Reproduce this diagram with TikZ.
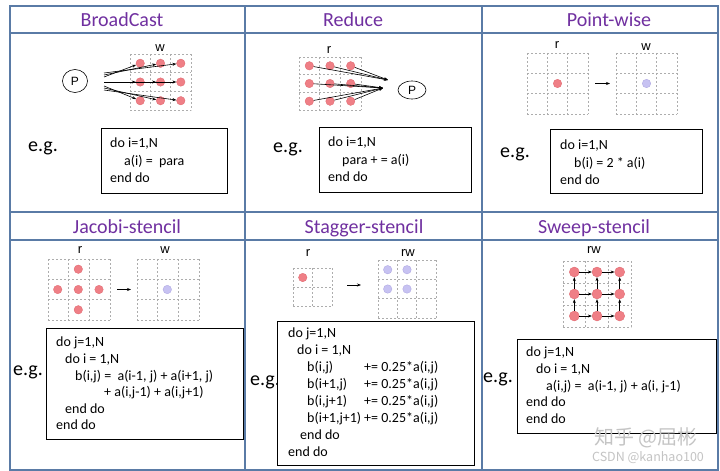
\documentclass[tikz,border=0pt]{standalone}
\usepackage{fontspec}
\setmainfont{Carlito}
\newfontfamily\cjkfont{Noto Sans CJK SC}
\newfontfamily\arialfont{Liberation Sans}
\usetikzlibrary{shapes.geometric,arrows.meta}
\definecolor{frameblue}{HTML}{5A7BA6}
\definecolor{ttlpurple}{HTML}{7030A0}
\definecolor{dotpink}{HTML}{EF7F86}
\definecolor{dotpinkd}{HTML}{E0646C}
\definecolor{dotlav}{HTML}{C7C2F2}
\definecolor{dotlavd}{HTML}{A9A2E0}
\definecolor{gridgray}{HTML}{ADADAD}
\definecolor{wmgray}{HTML}{C4C4C4}
\tikzset{
 frame/.style={draw=frameblue, line width=1.5pt},
 ttl/.style={font=\fontsize{20}{24}\selectfont, text=ttlpurple, anchor=base, inner sep=0},
 eg/.style={font=\fontsize{20}{24}\selectfont, anchor=base west, inner sep=0},
 codebox/.style={draw=black, line width=1.3pt, fill=white, anchor=north west, inner sep=0},
 code/.style={font=\fontsize{14}{17.5}\selectfont, align=left, anchor=north west, inner sep=0},
 codeb/.style={font=\fontsize{14}{16.6}\selectfont, align=left, anchor=north west, inner sep=0},
 codec/.style={font=\fontsize{14}{17}\selectfont, align=left, anchor=north west, inner sep=0},
 lbl/.style={font=\arialfont\fontsize{13}{15}\selectfont, inner sep=0},
 gridl/.style={draw=gridgray, line width=0.6pt, dash pattern=on 2pt off 2pt},
 pdot/.style={circle, fill=dotpink, draw=dotpinkd, line width=0.3pt, minimum size=8.5pt, inner sep=0},
 ldot/.style={circle, fill=dotlav, draw=dotlavd, line width=0.3pt, minimum size=8.5pt, inner sep=0},
 arr/.style={-{Stealth[length=4pt,width=3pt]}, line width=0.6pt, black},
 pnode/.style={ellipse, draw, line width=0.6pt, font=\arialfont\fontsize{12}{14}\selectfont, inner sep=0},
 wm1/.style={font=\cjkfont\fontsize{20}{24}\selectfont, text=wmgray, inner sep=0},
 wm2/.style={font=\cjkfont\fontsize{12.5}{15}\selectfont, text=wmgray, inner sep=0},
}
\newcommand\dgrid[6]{%
 \foreach \gi in {0,...,#3} \draw[gridl] ({#1+\gi*#5},#2) -- ++(0,{#4*#6});
 \foreach \gj in {0,...,#4} \draw[gridl] (#1,{#2+\gj*#6}) -- ++({#3*#5},0);
}
\begin{document}
\begin{tikzpicture}[x=1pt,y=-1pt]
\useasboundingbox[fill=white] (0,0) rectangle (720,471);
% table frame
\draw[frame] (10,6) rectangle (718,470);
\draw[frame] (245,6) -- (245,470);
\draw[frame] (482,6) -- (482,470);
\draw[frame] (10,33) -- (718,33);
\draw[frame] (10,212) -- (718,212);
\draw[frame] (10,240) -- (718,240);
% titles
\node[ttl] (t1) at (122,26) {BroadCast};
\node[ttl] (t2) at (353,26) {Reduce};
\node[ttl] (t3) at (609,26) {Point-wise};
\node[ttl] (t4) at (127,233.5) {Jacobi-stencil};
\node[ttl] (t5) at (364,233.5) {Stagger-stencil};
\node[ttl] (t6) at (594,233.5) {Sweep-stencil};

% ---------- BroadCast ----------
\node[lbl] (lw1) at (160,48) {w};
\dgrid{130}{54}{3}{3}{20.33}{18.67}
\foreach \r/\y in {1/63.3,2/82,3/100.7}
 \foreach \c/\x in {1/140.2,2/160.5,3/180.8}
  \node[pdot] (b\r\c) at (\x,\y) {};
\node[pnode, minimum width=25pt, minimum height=23pt] (pb) at (75,81) {P};
\coordinate (bo1) at (104,73);
\coordinate (bo2) at (104,75);
\coordinate (bo3) at (104,77);
\coordinate (bo4) at (104,82);
\coordinate (bo7) at (104,86);
\coordinate (bo8) at (104,88);
\coordinate (bo9) at (104,90);
\draw[arr] (bo3) -- (b11);
\draw[arr] (bo2) -- (b12);
\draw[arr] (bo1) -- (b13);
\draw[arr] (bo4) -- (b21);
\draw[arr] (bo4) -- (b22);
\draw[arr] (bo4) -- (b23);
\draw[arr] (bo7) -- (b31);
\draw[arr] (bo8) -- (b32);
\draw[arr] (bo9) -- (b33);
\node[eg] (eg1) at (28,151) {e.g.};
\node[codebox, minimum width=126pt, minimum height=65pt] (cb1) at (101,128) {};
\node[code] (c1) at (110,138) {do i=1,N\\\hspace*{14pt}a(i) =\ \ para\\end do};

% ---------- Reduce ----------
\node[lbl] (lr2) at (329,50) {r};
\dgrid{299}{57}{3}{3}{20.67}{17.67}
\foreach \r/\y in {1/65.8,2/83.5,3/101.2}
 \foreach \c/\x in {1/309.3,2/330,3/350.7}
  \node[pdot] (r\r\c) at (\x,\y) {};
\coordinate (ra) at (388,80);
\coordinate (rb) at (383,88);
\draw[arr] (r11) -- (ra);
\draw[arr] (r12) -- (ra);
\draw[arr] (r13) -- (ra);
\draw[arr] (r21) -- (rb);
\draw[arr] (r22) -- (rb);
\draw[arr] (r23) -- (rb);
\draw[arr] (r31) -- (rb);
\draw[arr] (r32) -- (rb);
\draw[arr] (r33) -- (rb);
\node[pnode, minimum width=28pt, minimum height=18pt] (pr) at (412,90) {P};
\node[eg] (eg2) at (273,152) {e.g.};
\node[codebox, minimum width=152pt, minimum height=65pt] (cb2) at (319,127) {};
\node[code] (c2) at (328,137) {do i=1,N\\\hspace*{14pt}para + = a(i)\\end do};

% ---------- Point-wise ----------
\node[lbl] (lr3) at (557,45) {r};
\node[lbl] (lw3) at (646,47) {w};
\dgrid{527}{53}{3}{3}{20.33}{20.33}
\dgrid{616}{53}{3}{3}{20.33}{20.33}
\node[pdot] (p3) at (557.5,83.5) {};
\node[ldot] (q3) at (646.5,83.5) {};
\coordinate (a3s) at (595,83.5);
\coordinate (a3e) at (610,83.5);
\draw[arr] (a3s) -- (a3e);
\node[eg] (eg3) at (500,157) {e.g.};
\node[codebox, minimum width=152pt, minimum height=64pt] (cb3) at (550,129) {};
\node[code] (c3) at (560,140) {do i=1,N\\\hspace*{14pt}b(i) = 2 * a(i)\\end do};

% ---------- Jacobi ----------
\node[lbl] (lr4) at (80,250) {r};
\node[lbl] (lw4) at (165,250) {w};
\dgrid{48}{259}{3}{3}{20.67}{20.33}
\dgrid{137}{259}{3}{3}{20.67}{20.33}
\node[pdot] (j1) at (78.3,269.2) {};
\node[pdot] (j2) at (57.7,289.5) {};
\node[pdot] (j3) at (78.3,289.5) {};
\node[pdot] (j4) at (99,289.5) {};
\node[pdot] (j5) at (78.3,309.8) {};
\node[ldot] (jw) at (167.3,289.5) {};
\coordinate (a4s) at (117,289.5);
\coordinate (a4e) at (131,289.5);
\draw[arr] (a4s) -- (a4e);
\node[eg] (eg4) at (13,375) {e.g.};
\node[codebox, minimum width=197pt, minimum height=111pt] (cb4) at (46,328) {};
\node[codeb] (c4) at (56,337) {do j=1,N\\\hspace*{9pt}do i = 1,N\\\hspace*{19pt}b(i,j) =\ \ a(i-1, j) + a(i+1, j)\\\hspace*{48pt}+ a(i,j-1) + a(i,j+1)\\\hspace*{9pt}end do\\end do};

% ---------- Stagger ----------
\node[lbl] (lr5) at (308,253) {r};
\node[lbl] (lw5) at (408,253) {rw};
\dgrid{293}{268}{2}{2}{19.5}{19}
\dgrid{378}{260}{3}{3}{19.33}{19.33}
\node[pdot] (s0) at (302.75,277.5) {};
\node[ldot] (u1) at (387.7,269.7) {};
\node[ldot] (u2) at (407,269.7) {};
\node[ldot] (u3) at (387.7,289) {};
\node[ldot] (u4) at (407,289) {};
\coordinate (a5s) at (347,285);
\coordinate (a5e) at (361,285);
\draw[arr] (a5s) -- (a5e);
\node[eg] (eg5) at (250,385) {e.g.};
\node[codebox, minimum width=197pt, minimum height=144pt] (cb5) at (277,321) {};
\node[codec] (c5) at (288,328) {do j=1,N\\\hspace*{9pt}do i = 1,N\\
\hspace*{19pt}\makebox[57pt][l]{b(i,j)}+= 0.25*a(i,j)\\
\hspace*{19pt}\makebox[57pt][l]{b(i+1,j)}+= 0.25*a(i,j)\\
\hspace*{19pt}\makebox[57pt][l]{b(i,j+1)}+= 0.25*a(i,j)\\
\hspace*{19pt}\makebox[57pt][l]{b(i+1,j+1)}+= 0.25*a(i,j)\\
\hspace*{12pt}end do\\end do};

% ---------- Sweep ----------
\node[lbl] (lw6) at (594,250) {rw};
\dgrid{563}{261}{3}{3}{22.67}{22}
\foreach \r/\y in {1/272,2/294,3/316}
 \foreach \c/\x in {1/574.3,2/597,3/619.7}
  \node[pdot, minimum size=10pt] (w\r\c) at (\x,\y) {};
\foreach \r in {1,2,3}{
 \draw[arr] (w\r1) -- (w\r2);
 \draw[arr] (w\r2) -- (w\r3);
}
\foreach \c in {1,2,3}{
 \draw[arr] (w3\c) -- (w2\c);
 \draw[arr] (w2\c) -- (w1\c);
}
\node[eg] (eg6) at (483,382) {e.g.};
\node[codebox, minimum width=199pt, minimum height=94pt] (cb6) at (517,339) {};
\node[codeb] (c6) at (526,347) {do j=1,N\\\hspace*{10pt}do i = 1,N\\\hspace*{20pt}a(i,j) =\ \ a(i-1, j) + a(i, j-1)\\end do\\end do};

% watermark
\node[wm1] (wma) at (646,438) {知乎\ @屈彬};
\node[wm2] (wmb) at (648,458) {CSDN @kanhao100};
\end{tikzpicture}
\end{document}
